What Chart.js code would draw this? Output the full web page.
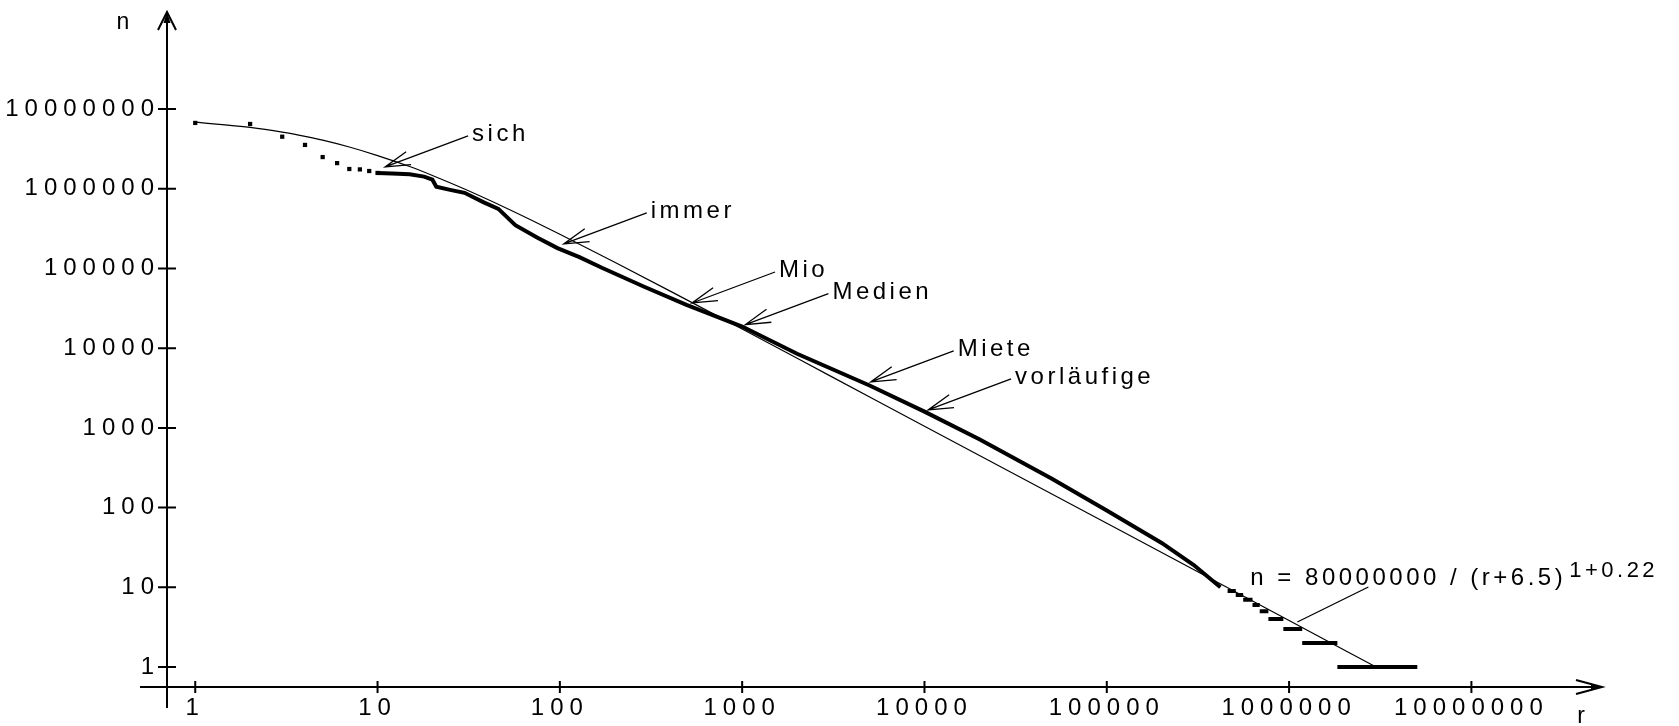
<!DOCTYPE html>
<html>
<head>
<meta charset="utf-8">
<script src="https://cdn.jsdelivr.net/npm/chart.js@4.4.1/dist/chart.umd.min.js"></script>
<style>
  html, body { margin: 0; padding: 0; background: #fff; }
  #wrap { width: 1679px; height: 726px; }
</style>
</head>
<body>
<div id="wrap"><canvas id="chart" width="1679" height="726"></canvas></div>
<script>
// Rang r (x) und Häufigkeit n (y)
const tickValues = [1, 10, 100, 1000, 10000, 100000, 1000000, 10000000];

// einzelne Punkte der häufigsten Wörter
const dotRanks = [1, 2, 3, 4, 5, 6, 7, 8, 9, 10];
const dotCounts = [6700000, 6500000, 4500000, 3550000, 2500000, 2100000, 1770000, 1750000, 1670000, 1580000];

// dicke Kurve (gemessene Werte)
const curveRanks = [10, 12, 15, 18, 20, 21, 25, 30, 38, 46, 57, 75, 97, 128, 170, 290, 495, 1000, 2000, 5000, 10000, 20000, 50000, 100000, 200000, 300000, 420000];
const curveCounts = [1580000, 1550000, 1520000, 1420000, 1300000, 1060000, 970000, 890000, 680000, 560000, 350000, 245000, 180000, 139000, 102000, 59000, 35000, 18700, 8500, 3400, 1600, 720, 230, 92, 36, 19, 10];

// Treppenstufen am Ende
const stepCounts = [9, 8, 7, 6, 5, 4, 3, 2, 1];
const stepFrom = [460000, 510000, 560000, 630000, 690000, 770000, 930000, 1180000, 1840000];
const stepTo = [510000, 560000, 630000, 690000, 770000, 930000, 1180000, 1840000, 5050000];

// dünne Ausgleichskurve
const fitRanks = [1, 2, 3, 4, 5, 7, 10, 15, 20, 30, 50, 70, 100, 200, 500, 1000, 3000, 10000, 100000, 1000000, 3000000];
const fitCounts = [6850000, 5880000, 5130000, 4540000, 4070000, 3340000, 2610000, 1900000, 1470000, 993000, 583000, 403000, 269000, 120000, 40100, 17400, 4560, 1050, 63.5, 3.83, 1.0];

// Beschriftungen mit Pfeil
const annoWords = ['sich', 'immer', 'Mio', 'Medien', 'Miete', 'vorläufige'];
const annoRanks = [11, 105, 531, 1042, 5070, 10470];
const annoCounts = [1880000, 203000, 36900, 19800, 3770, 1678];

const formulaText = 'n = 80000000 / (r+6.5)';
const formulaExp = '1+0.22';
const formulaRank = 1110000;
const formulaCount = 3.67;

const FONT = '"Liberation Sans", Arial, sans-serif';

const dotData = dotRanks.map((r, i) => ({ x: r, y: dotCounts[i] }));
const curveData = curveRanks.map((r, i) => ({ x: r, y: curveCounts[i] }));
const fitData = fitRanks.map((r, i) => ({ x: r, y: fitCounts[i] }));
const stepData = [];
stepCounts.forEach((n, i) => {
  stepData.push({ x: stepFrom[i], y: n }, { x: stepTo[i], y: n }, { x: stepTo[i], y: null });
});

function arrowHead(ctx, tx, ty, fx, fy, len, spread) {
  const ang = Math.atan2(fy - ty, fx - tx);
  ctx.moveTo(tx + len * Math.cos(ang - spread), ty + len * Math.sin(ang - spread));
  ctx.lineTo(tx, ty);
  ctx.lineTo(tx + len * Math.cos(ang + spread), ty + len * Math.sin(ang + spread));
}

const axesPlugin = {
  id: 'axes',
  beforeDraw(chart) {
    chart.ctx.letterSpacing = '6px';
  },
  afterDraw(chart) {
    const ctx = chart.ctx;
    const xs = chart.scales.x, ys = chart.scales.y;
    const a = chart.chartArea;
    const x0 = a.left, y0 = a.bottom;
    ctx.save();
    ctx.letterSpacing = '0px';
    ctx.strokeStyle = '#000';
    ctx.fillStyle = '#000';
    ctx.lineWidth = 2;
    ctx.beginPath();
    ctx.moveTo(x0 - 27, y0); ctx.lineTo(a.right, y0);
    ctx.moveTo(x0, y0 + 21); ctx.lineTo(x0, a.top + 2);
    tickValues.forEach(v => {
      const px = xs.getPixelForValue(v);
      ctx.moveTo(px, y0 - 6); ctx.lineTo(px, y0 + 6);
      const py = ys.getPixelForValue(v);
      ctx.moveTo(x0 - 9, py); ctx.lineTo(x0 + 9, py);
    });
    // Pfeilspitzen der Achsen
    ctx.moveTo(a.right - 26, y0 - 7); ctx.lineTo(a.right, y0); ctx.lineTo(a.right - 26, y0 + 7);
    ctx.moveTo(x0 - 9, a.top + 20); ctx.lineTo(x0, a.top + 2); ctx.lineTo(x0 + 9, a.top + 20);
    ctx.stroke();
    ctx.beginPath();
    ctx.moveTo(a.right, y0); ctx.lineTo(a.right - 11, y0 - 3.5); ctx.lineTo(a.right - 11, y0 + 3.5);
    ctx.closePath();
    ctx.moveTo(x0, a.top + 2); ctx.lineTo(x0 - 3.5, a.top + 13); ctx.lineTo(x0 + 3.5, a.top + 13);
    ctx.closePath();
    ctx.fill();

    // Achsenbezeichnungen
    ctx.font = '23px ' + FONT;
    ctx.textAlign = 'center';
    ctx.textBaseline = 'alphabetic';
    ctx.fillText('n', x0 - 44, a.top + 19);
    ctx.fillText('r', a.right - 21, y0 + 36);

    // Wörter mit Pfeilen
    ctx.font = '24px ' + FONT;
    ctx.letterSpacing = '3.5px';
    ctx.textAlign = 'left';
    ctx.lineWidth = 1.3;
    annoWords.forEach((w, i) => {
      const tx = xs.getPixelForValue(annoRanks[i]);
      const ty = ys.getPixelForValue(annoCounts[i]);
      const lx = tx + 83, ly = ty - 31;
      ctx.beginPath();
      ctx.moveTo(lx, ly); ctx.lineTo(tx, ty);
      arrowHead(ctx, tx, ty, lx, ly, 26, 0.27);
      ctx.stroke();
      ctx.fillText(w, tx + 87, ty - 26);
    });

    // Formel
    const fx = xs.getPixelForValue(formulaRank);
    const fy = ys.getPixelForValue(formulaCount);
    ctx.beginPath();
    ctx.moveTo(fx, fy); ctx.lineTo(fx + 71, fy - 35);
    ctx.stroke();
    ctx.fillText(formulaText, fx - 47, fy - 37);
    const w = ctx.measureText(formulaText).width;
    ctx.font = '22px ' + FONT;
    ctx.fillText(formulaExp, fx - 47 + w + 3, fy - 45);
    ctx.restore();
  }
};

new Chart(document.getElementById('chart'), {
  type: 'line',
  data: {
    datasets: [
      {
        data: fitData,
        borderColor: '#000',
        borderWidth: 1.2,
        pointRadius: 0,
        cubicInterpolationMode: 'monotone'
      },
      {
        data: curveData,
        borderColor: '#000',
        borderWidth: 4,
        pointRadius: 0
      },
      {
        data: stepData,
        borderColor: '#000',
        borderWidth: 4,
        pointRadius: 0,
        spanGaps: false
      },
      {
        data: dotData,
        showLine: false,
        pointStyle: 'rect',
        pointRadius: 3,
        pointBackgroundColor: '#000',
        pointBorderWidth: 0
      }
    ]
  },
  options: {
    responsive: false,
    animation: false,
    devicePixelRatio: 1,
    layout: { autoPadding: false, padding: { left: 0, top: 10, right: 77, bottom: 0 } },
    plugins: { legend: { display: false }, tooltip: { enabled: false } },
    scales: {
      x: {
        type: 'logarithmic',
        min: 0.7206,
        max: 52040000,
        grid: { display: false, drawTicks: false },
        border: { display: false },
        afterBuildTicks: s => { s.ticks = tickValues.map(v => ({ value: v })); },
        afterFit: s => { s.height = 39; s.paddingLeft = 0; s.paddingRight = 0; },
        ticks: {
          autoSkip: false, maxRotation: 0, minRotation: 0,
          padding: 7,
          color: '#000',
          font: { family: FONT, size: 24 },
          callback: v => String(v)
        }
      },
      y: {
        type: 'logarithmic',
        min: 0.561,
        max: 175000000,
        grid: { display: false, drawTicks: false },
        border: { display: false },
        afterBuildTicks: s => { s.ticks = tickValues.map(v => ({ value: v })); },
        afterFit: s => { s.width = 167; s.paddingTop = 0; s.paddingBottom = 0; },
        ticks: {
          autoSkip: false,
          padding: 7,
          color: '#000',
          font: { family: FONT, size: 24 },
          callback: v => String(v)
        }
      }
    }
  },
  plugins: [axesPlugin]
});
</script>
</body>
</html>
